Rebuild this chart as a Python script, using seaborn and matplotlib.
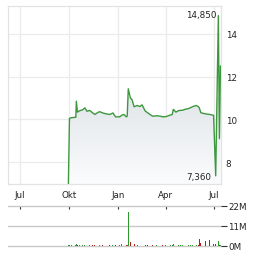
import numpy as np
import pandas as pd
import matplotlib
matplotlib.use("Agg")
import matplotlib.pyplot as plt
import matplotlib.dates as mdates
from matplotlib.colors import LinearSegmentedColormap
import seaborn as sns

# ---- data ----
price_dates = ["2023-09-30", "2023-10-02", "2023-10-06", "2023-10-14", "2023-10-15", "2023-10-17",
               "2023-10-21", "2023-10-27", "2023-10-31", "2023-11-04", "2023-11-09", "2023-11-15",
               "2023-11-19", "2023-11-25", "2023-11-28", "2023-12-04", "2023-12-10", "2023-12-17",
               "2023-12-23", "2023-12-28", "2024-01-05", "2024-01-09", "2024-01-13", "2024-01-17",
               "2024-01-19", "2024-01-21", "2024-01-25", "2024-01-28", "2024-02-01", "2024-02-07",
               "2024-02-12", "2024-02-16", "2024-02-22", "2024-02-27", "2024-03-02", "2024-03-07",
               "2024-03-15", "2024-03-21", "2024-03-26", "2024-04-01", "2024-04-09", "2024-04-13",
               "2024-04-15", "2024-04-20", "2024-04-24", "2024-04-28", "2024-05-03", "2024-05-07",
               "2024-05-13", "2024-05-17", "2024-05-22", "2024-05-28", "2024-06-01", "2024-06-03",
               "2024-06-06", "2024-06-14", "2024-06-23", "2024-06-30", "2024-07-04", "2024-07-09",
               "2024-07-11", "2024-07-13"]
prices = [7.0, 10.05, 10.08, 10.1, 10.85, 10.34,
          10.4, 10.45, 10.54, 10.38, 10.42, 10.3,
          10.23, 10.33, 10.36, 10.3, 10.26, 10.23,
          10.3, 10.12, 10.12, 10.2, 10.23, 10.12,
          10.15, 11.43, 11.0, 10.93, 10.59, 10.65,
          10.6, 10.68, 10.39, 10.3, 10.23, 10.15,
          10.17, 10.15, 10.12, 10.13, 10.2, 10.23,
          10.47, 10.34, 10.4, 10.42, 10.43, 10.47,
          10.5, 10.54, 10.6, 10.65, 10.6, 10.54,
          10.31, 10.26, 10.23, 10.19, 7.36, 14.85,
          9.1, 12.5]
volumes_m = [0.6, 0.7, 0.6, 0.6, 0.9, 0.7,
             0.6, 0.7, 0.6, 0.6, 0.7, 0.6,
             0.6, 0.7, 0.6, 0.6, 0.7, 0.6,
             0.6, 0.8, 0.7, 0.9, 0.7, 0.6,
             0.8, 18.5, 2.0, 1.2, 0.9, 0.7,
             0.6, 0.7, 0.6, 0.7, 0.6, 0.6,
             0.7, 0.6, 0.6, 0.7, 0.6, 0.6,
             0.9, 0.6, 0.7, 0.6, 0.7, 0.6,
             0.7, 0.6, 0.8, 0.7, 0.6, 3.9,
             1.8, 3.0, 3.5, 1.0, 1.2, 2.7,
             0.8, 0.7]
max_label = "14,850"
min_label = "7,360"
month_ticks = ["2023-07-01", "2023-10-01", "2024-01-01", "2024-04-01", "2024-07-01"]
month_labels = ["Jul", "Okt", "Jan", "Apr", "Jul"]
price_ticks = [8, 10, 12, 14]
vol_ticks = [0, 11, 22]
vol_labels = ["0M", "11M", "22M"]

df = pd.DataFrame({"date": pd.to_datetime(price_dates), "price": prices, "vol": volumes_m})
df["up"] = df["price"].diff().fillna(1) >= 0

sns.set_style("white")
plt.rcParams["font.family"] = ["DejaVu Sans"]
FS = 6.3
TXT = "#222222"

fig = plt.figure(figsize=(2.64, 2.55), dpi=100)
ax = fig.add_axes([8/264, 1-185/255, 213/264, 178/255])
axv = fig.add_axes([8/264, 1-247/255, 213/264, 40/255])

xmin = pd.Timestamp("2023-06-08")
xmax = pd.Timestamp("2024-07-14")

# gradient area under the line
ymin, ymax = 6.98, 15.3
poly = ax.fill_between(df["date"], df["price"], ymin, color="none", lw=0)
grad = np.linspace(1, 0, 256).reshape(-1, 1)
cmap = LinearSegmentedColormap.from_list("g", ["#fbfcfd", "#e2e7eb"])
im = ax.imshow(grad, cmap=cmap, aspect="auto", origin="upper",
               extent=[mdates.date2num(xmin), mdates.date2num(xmax), ymin, 11.0], zorder=1)
im.set_clip_path(poly.get_paths()[0], transform=ax.transData)

sns.lineplot(data=df, x="date", y="price", ax=ax, color="#3d983d", lw=1.0, zorder=3)

ax.set_xlim(xmin, xmax)
ax.set_ylim(ymin, ymax)
ax.set_xticks(pd.to_datetime(month_ticks))
ax.set_xticklabels(month_labels)
ax.set_yticks(price_ticks)
ax.set_yticklabels([str(t) for t in price_ticks])
ax.yaxis.tick_right()
ax.tick_params(axis="y", length=0, pad=3.5, labelsize=FS, colors=TXT)
ax.tick_params(axis="x", length=0, pad=4, labelsize=FS, colors=TXT)
ax.grid(True, color="#ebebeb", lw=0.9)
ax.set_axisbelow(True)
for s in ax.spines.values():
    s.set_color("#e3e3e3")
    s.set_linewidth(0.9)
ax.set_xlabel("")
ax.set_ylabel("")

imax = int(np.argmax(prices))
imin = int(np.argmin(prices[1:])) + 1
ax.text(df["date"][imax] - pd.Timedelta(days=3), prices[imax] + 0.05, max_label,
        ha="right", va="center", fontsize=FS, color=TXT)
ax.text(df["date"][imin] - pd.Timedelta(days=8), prices[imin] - 0.05, min_label,
        ha="right", va="center", fontsize=FS, color=TXT)

# volume
colors = ["#2a9a2a" if u else "#b02020" for u in df["up"]]
axv.bar(df["date"], df["vol"], width=1.6, color=colors, lw=0, zorder=3)
axv.set_xlim(xmin, xmax)
axv.set_ylim(0, 22)
axv.set_yticks(vol_ticks)
axv.set_yticklabels(vol_labels)
axv.yaxis.tick_right()
axv.tick_params(axis="y", length=4, width=0.8, color="#333333", pad=1, labelsize=FS, colors=TXT)
axv.set_xticks(pd.to_datetime(month_ticks))
axv.tick_params(axis="x", top=True, bottom=False, direction="in", length=2.5, width=0.8,
                color="#333333", labeltop=False, labelbottom=False)
axv.grid(True, axis="y", color="#c8c8c8", lw=1.0)
for gl in axv.get_ygridlines():
    gl.set_clip_on(False)
axv.set_axisbelow(True)
for s in axv.spines.values():
    s.set_visible(False)

fig.savefig("out.png", dpi=100)
